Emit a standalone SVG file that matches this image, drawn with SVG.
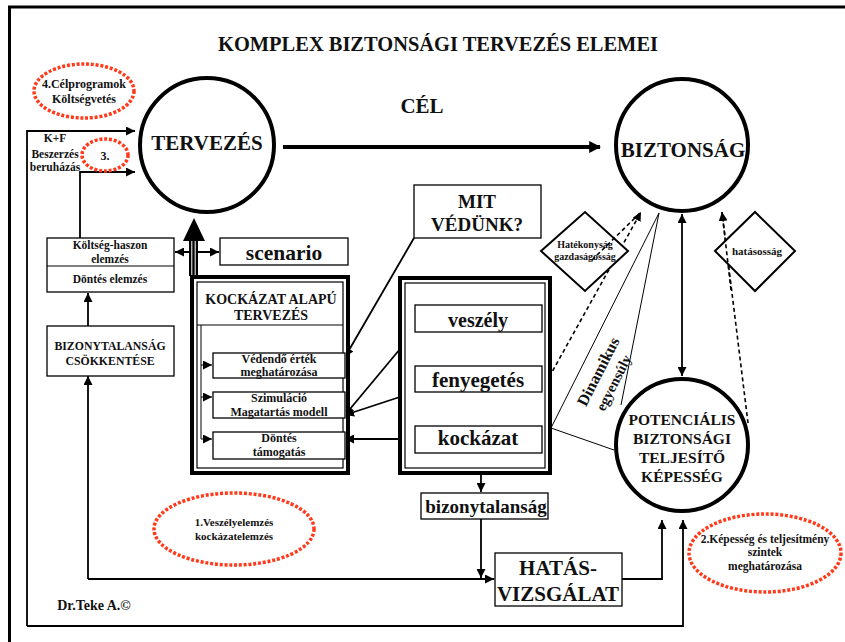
<svg xmlns="http://www.w3.org/2000/svg" width="845" height="642" viewBox="0 0 845 642">
<defs>
<marker id="ar" viewBox="0 0 10 10" refX="10" refY="5" markerWidth="9" markerHeight="9" markerUnits="userSpaceOnUse" orient="auto-start-reverse"><path d="M0,0 L10,5 L0,10 z" fill="#000"/></marker>
<marker id="arB" viewBox="0 0 10 10" refX="9" refY="5" markerWidth="12" markerHeight="12" markerUnits="userSpaceOnUse" orient="auto"><path d="M0,0 L10,5 L0,10 z" fill="#000"/></marker>
</defs>
<style>
text{font-family:"Liberation Serif","Times New Roman",serif;font-weight:bold;fill:#111;text-anchor:middle}
.bx{fill:#fff;stroke:#000;stroke-width:1.3}
.circ{fill:#fff;stroke:#000;stroke-width:4}
.red{fill:none;stroke:#ff3a1a;stroke-width:3.5;stroke-dasharray:3 1.8}
.ln{fill:none;stroke:#000;stroke-width:1.8}
.th{fill:none;stroke:#000;stroke-width:1}
.ds{fill:none;stroke:#000;stroke-width:1.6;stroke-dasharray:4 3}
.thick{fill:none;stroke:#000;stroke-width:4}
</style>
<rect width="845" height="642" fill="#fff"/>
<rect x="9.5" y="7" width="900" height="700" fill="none" stroke="#000" stroke-width="3"/>
<text x="438" y="51" font-size="20" textLength="440" lengthAdjust="spacingAndGlyphs">KOMPLEX BIZTONSÁGI TERVEZÉS ELEMEI</text>
<text x="422" y="113" font-size="21">CÉL</text>

<g id="connectors">
<path class="thick" d="M283,147 L600,147" stroke-width="4.5" marker-end="url(#arB)"/>
<path class="ln" d="M27,626 L27,131 L135,131" marker-end="url(#ar)"/>
<path class="ln" d="M27,626 L683,626 L683,520" marker-end="url(#ar)"/>
<path class="ln" d="M80,238 L80,172 L135,172" marker-end="url(#ar)"/>
<path class="ln" d="M175,252 L219,252" marker-start="url(#ar)" marker-end="url(#ar)"/>
<path class="ln" d="M88,326 L88,293" marker-end="url(#ar)"/>
<path class="ln" d="M88,579 L88,376" marker-end="url(#ar)"/>
<path class="ln" d="M88,579 L494,579" marker-end="url(#ar)"/>
<path class="ln" d="M481,473 L481,492" marker-end="url(#ar)"/>
<path class="ln" d="M481,519 L481,578" marker-end="url(#ar)"/>
<path class="ln" d="M622,579 L662,579 L662,520" marker-end="url(#ar)"/>
<path class="ln" d="M414,238 L345,357" marker-end="url(#ar)"/>
<path class="ln" d="M415,331 L345,415" marker-end="url(#ar)"/>
<path class="ln" d="M415,392 L345,415" marker-end="url(#ar)"/>
<path class="ln" d="M415,439 L345,439" stroke-width="2.5" marker-end="url(#ar)"/>
<path class="ln" d="M682,214 L682,376" marker-start="url(#ar)" marker-end="url(#ar)"/>
<path class="ds" d="M522,426 L641,212" marker-end="url(#ar)"/>
<path class="ds" d="M748,423 L722,212" marker-end="url(#ar)"/>
<path class="th" d="M659,213 L551,428 L614,450"/>
<path class="th" d="M659,213 L621,405"/>
<rect x="189" y="240" width="9" height="36" fill="#000"/>
<line x1="191.8" y1="240" x2="191.8" y2="276" stroke="#fff" stroke-width="1"/>
<line x1="195.2" y1="240" x2="195.2" y2="276" stroke="#fff" stroke-width="1"/>
<path d="M183,241 L194,218 L205,241 z" fill="#000"/>
</g>

<g id="tervezes">
<circle class="circ" cx="207" cy="145" r="67"/>
<text x="207" y="150" font-size="21">TERVEZÉS</text>
</g>
<g id="biztonsag">
<circle class="circ" cx="682" cy="145" r="66"/>
<text x="683" y="157" font-size="21">BIZTONSÁG</text>
</g>
<g id="potencialis">
<circle class="circ" cx="682" cy="445" r="66"/>
<text x="682" y="425" font-size="15.5">POTENCIÁLIS</text>
<text x="682" y="444" font-size="15.5">BIZTONSÁGI</text>
<text x="682" y="463" font-size="15.5">TELJESÍTŐ</text>
<text x="682" y="482" font-size="15.5">KÉPESSÉG</text>
</g>

<g id="celprogramok">
<ellipse class="red" cx="84" cy="91" rx="50" ry="27"/>
<text x="84" y="88" font-size="12">4.Célprogramok</text>
<text x="84" y="103" font-size="12">Költségvetés</text>
</g>
<g id="kf">
<text x="55" y="142" font-size="11.5">K+F</text>
<text x="55" y="158" font-size="11.5">Beszerzés</text>
<text x="55" y="171" font-size="11.5">beruházás</text>
</g>
<g id="harom">
<ellipse class="red" cx="105" cy="155" rx="23" ry="16"/>
<text x="105" y="160" font-size="12">3.</text>
</g>

<g id="koltseg">
<rect class="bx" x="47" y="238" width="127" height="54"/>
<line x1="47" y1="266" x2="174" y2="266" stroke="#000" stroke-width="1"/>
<text x="110" y="249" font-size="11.5">Költség-haszon</text>
<text x="110" y="263" font-size="11.5">elemzés</text>
<text x="110" y="283" font-size="11.5">Döntés elemzés</text>
</g>
<g id="scenario">
<rect class="bx" x="220" y="238" width="128" height="27"/>
<text x="284" y="260" font-size="21.5">scenario</text>
</g>
<g id="bizonytalansag-csokk">
<rect class="bx" x="47" y="326" width="127" height="50"/>
<text x="110" y="350" font-size="11.8">BIZONYTALANSÁG</text>
<text x="110" y="365" font-size="11.8">CSÖKKENTÉSE</text>
</g>

<g id="mit-vedunk">
<rect class="bx" x="414" y="185" width="127" height="53"/>
<text x="477" y="208" font-size="19">MIT</text>
<text x="477" y="231" font-size="19">VÉDÜNK?</text>
</g>

<g id="kockazat-alapu">
<rect x="192" y="277" width="156" height="196" fill="#fff" stroke="#000" stroke-width="4"/>
<rect x="197" y="282" width="146" height="186" fill="none" stroke="#000" stroke-width="1.2"/>
<line x1="197" y1="325" x2="343" y2="325" stroke="#000" stroke-width="1"/>
<text x="271" y="304" font-size="14">KOCKÁZAT ALAPÚ</text>
<text x="271" y="320" font-size="14">TERVEZÉS</text>
<path class="th" d="M201,325 L201,439"/>
<path class="th" d="M201,365 L212,365" marker-end="url(#ar)"/>
<path class="th" d="M201,397 L212,397" marker-end="url(#ar)"/>
<path class="th" d="M201,439 L212,439" marker-end="url(#ar)"/>
</g>
<g id="vedendo">
<rect class="bx" x="213" y="353" width="132" height="25"/>
<text x="279" y="363" font-size="12">Védendő érték</text>
<text x="279" y="376" font-size="12">meghatározása</text>
</g>
<g id="szimulacio">
<rect class="bx" x="213" y="392" width="132" height="26"/>
<text x="279" y="402" font-size="12">Szimuláció</text>
<text x="279" y="416" font-size="12">Magatartás modell</text>
</g>
<g id="dontes-tamogatas">
<rect class="bx" x="213" y="432" width="132" height="27"/>
<text x="279" y="442" font-size="12">Döntés</text>
<text x="279" y="456" font-size="12">támogatás</text>
</g>

<g id="veszely-group">
<rect x="400" y="278" width="150" height="195" fill="#fff" stroke="#000" stroke-width="4"/>
<rect x="405" y="283" width="140" height="185" fill="none" stroke="#000" stroke-width="1.2"/>
</g>
<g id="veszely">
<rect class="bx" x="415" y="305" width="127" height="27"/>
<text x="478" y="327" font-size="20">veszély</text>
</g>
<g id="fenyegetes">
<rect class="bx" x="415" y="366" width="127" height="26"/>
<text x="478" y="387" font-size="21">fenyegetés</text>
</g>
<g id="kockazat">
<rect class="bx" x="415" y="426" width="127" height="27"/>
<text x="478" y="445" font-size="21">kockázat</text>
</g>

<g id="bizonytalansag">
<rect class="bx" x="421" y="493" width="127" height="26"/>
<text x="486" y="513" font-size="19">bizonytalanság</text>
</g>
<g id="hatasvizsgalat">
<rect class="bx" x="495" y="553" width="127" height="53"/>
<text x="558" y="575" font-size="21">HATÁS-</text>
<text x="558" y="601" font-size="21">VIZSGÁLAT</text>
</g>

<g id="hatekonysag">
<path d="M541,251 L585,212 L628,251 L585,291 z" fill="#fff" stroke="#000" stroke-width="2"/>
<text x="585" y="248" font-size="10">Hatékonyság</text>
<text x="585" y="260" font-size="10">gazdaságosság</text>
</g>
<g id="hatasossag">
<path d="M715,251 L755,212 L795,251 L755,291 z" fill="#fff" stroke="#000" stroke-width="2"/>
<text x="757" y="255" font-size="11">hatásosság</text>
</g>
<path class="ds" d="M592,260 L641,212"/>
<path class="ds" d="M731,290 L722,212"/>

<g id="dinamikus">
<text transform="translate(603,374) rotate(-63)" font-size="16">Dinamikus</text>
<text transform="translate(618,385) rotate(-63)" font-size="14.5">egyensúly</text>
</g>

<g id="veszelyelemzes">
<ellipse class="red" cx="234" cy="529" rx="80" ry="36"/>
<text x="234" y="526" font-size="11">1.Veszélyelemzés</text>
<text x="234" y="540" font-size="11">kockázatelemzés</text>
</g>
<g id="kepesseg">
<ellipse class="red" cx="765" cy="553" rx="76" ry="39"/>
<text x="765" y="543" font-size="11.5">2.Képesség és teljesítmény</text>
<text x="765" y="556" font-size="11.5">szintek</text>
<text x="765" y="570" font-size="11.5">meghatározása</text>
</g>
<text x="94" y="610" font-size="14">Dr.Teke A.©</text>
</svg>
